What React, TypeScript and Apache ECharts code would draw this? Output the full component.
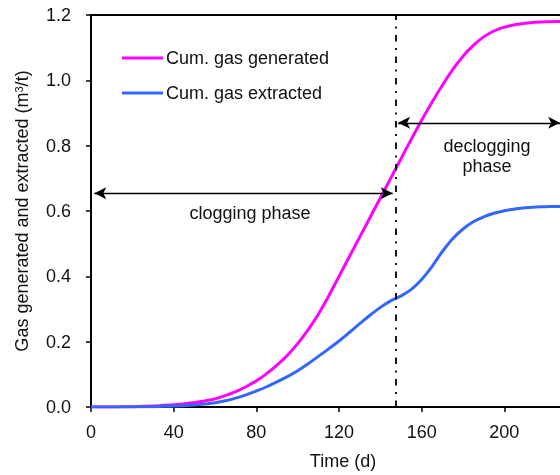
import React, { useEffect, useRef } from "react";
import * as echarts from "echarts";

// Time axis (days) shared by both curves
const days: number[] = [
  0, 5, 10, 15, 20, 25, 30, 35, 40, 45, 50, 55, 60, 65, 70, 75, 80, 85, 90, 95,
  100, 105, 110, 115, 120, 125, 130, 135, 140, 145, 150, 155, 160, 165, 170,
  175, 180, 185, 190, 195, 200, 205, 210, 215, 220, 225, 230, 235, 240,
];

// Cumulative gas generated (m3/t)
const gasGenerated: number[] = [
  0, 0, 0, 0.0005, 0.001, 0.002, 0.003, 0.005, 0.007, 0.01, 0.0135, 0.0185,
  0.025, 0.035, 0.047, 0.062, 0.08, 0.102, 0.128, 0.158, 0.194, 0.236, 0.284,
  0.34, 0.4, 0.46, 0.52, 0.58, 0.64, 0.7, 0.76, 0.82, 0.878, 0.933, 0.985,
  1.033, 1.074, 1.107, 1.133, 1.151, 1.163, 1.17, 1.175, 1.178, 1.179, 1.18,
  1.18, 1.18, 1.18,
];

// Cumulative gas extracted (m3/t)
const gasExtracted: number[] = [
  0, 0, 0, 0, 0, 0.001, 0.001, 0.002, 0.003, 0.004, 0.006, 0.009, 0.013,
  0.019, 0.027, 0.037, 0.049, 0.062, 0.077, 0.093, 0.111, 0.132, 0.155, 0.178,
  0.202, 0.228, 0.255, 0.281, 0.305, 0.325, 0.34, 0.36, 0.39, 0.43, 0.476,
  0.515, 0.545, 0.567, 0.582, 0.593, 0.601, 0.606, 0.61, 0.612, 0.613, 0.614,
  0.614, 0.615, 0.615,
];

const seriesNames: string[] = ["Cum. gas generated", "Cum. gas extracted"];
const seriesColors: string[] = ["#ff00ff", "#3366ff"];

// Phase boundary and phase arrows (day, value)
const phaseBoundaryDay = 147.5;
const cloggingArrow: [number, number][] = [
  [1.6, 0.654],
  [146, 0.654],
];
const decloggingArrow: [number, number][] = [
  [148.6, 0.87],
  [227, 0.87],
];

const FONT = "'Liberation Sans', Arial, sans-serif";

export default function App() {
  const ref = useRef<HTMLDivElement>(null);

  useEffect(() => {
    if (!ref.current) return;
    const chart = echarts.init(ref.current, undefined, { renderer: "svg" });

    const toPairs = (vals: number[]) => days.map((d, i) => [d, vals[i]]);

    chart.setOption({
      animation: false,
      textStyle: { fontFamily: FONT },
      grid: {
        left: 91,
        top: 15,
        bottom: 68,
        width: 496,
        containLabel: false,
        outerBoundsMode: "none",
        show: true,
        borderColor: "#000",
        borderWidth: 2,
      },
      legend: {
        orient: "vertical",
        left: 122,
        top: 49,
        padding: 0,
        itemWidth: 41,
        itemHeight: 3,
        itemGap: 17,
        icon: "rect",
        data: seriesNames,
        textStyle: { fontFamily: FONT, fontSize: 18, color: "#111", padding: [0, 0, 0, -2] },
      },
      xAxis: {
        type: "value",
        min: 0,
        max: 240,
        interval: 40,
        name: "Time (d)",
        nameLocation: "middle",
        nameGap: 45,
        nameTextStyle: {
          fontFamily: FONT,
          fontSize: 18,
          color: "#111",
          padding: [0, 0, 0, 8],
        },
        axisLine: { lineStyle: { color: "#000", width: 2 } },
        axisTick: { inside: false, length: 5, lineStyle: { color: "#000", width: 1.5 } },
        axisLabel: {
          margin: 16,
          fontFamily: FONT,
          fontSize: 18,
          color: "#111",
          showMaxLabel: false,
        },
        splitLine: { show: false },
      },
      yAxis: {
        type: "value",
        min: 0,
        max: 1.2,
        interval: 0.2,
        name: "Gas generated and extracted (m{sup|3}/t)",
        nameLocation: "middle",
        nameRotate: 90,
        nameGap: 60,
        nameTextStyle: {
          fontFamily: FONT,
          fontSize: 18,
          color: "#111",
          rich: {
            sup: { fontFamily: FONT, fontSize: 11, color: "#111", verticalAlign: "top", lineHeight: 18 },
          },
        },
        axisLine: { show: true, lineStyle: { color: "#000", width: 2 } },
        axisTick: { show: true, inside: false, length: 5, lineStyle: { color: "#000", width: 1.5 } },
        axisLabel: {
          margin: 20,
          fontFamily: FONT,
          fontSize: 18,
          color: "#111",
          formatter: (v: number) => v.toFixed(1),
        },
        splitLine: { show: false },
      },
      series: [
        {
          name: seriesNames[0],
          type: "line",
          data: toPairs(gasGenerated),
          showSymbol: false,
          smooth: 0.4,
          lineStyle: { color: seriesColors[0], width: 3 },
          itemStyle: { color: seriesColors[0] },
          z: 3,
          markLine: {
            silent: true,
            symbol: ["none", "none"],
            label: { show: false },
            lineStyle: { color: "#000", width: 1.8, type: [6.5, 6.5, 2, 6.5] },
            data: [{ xAxis: phaseBoundaryDay }],
          },
        },
        {
          name: seriesNames[1],
          type: "line",
          data: toPairs(gasExtracted),
          showSymbol: false,
          smooth: 0.4,
          lineStyle: { color: seriesColors[1], width: 3 },
          itemStyle: { color: seriesColors[1] },
          z: 3,
          markLine: {
            silent: true,
            symbol: ["arrow", "arrow"],
            symbolSize: [9, 12],
            label: { show: false },
            lineStyle: { color: "#000", width: 1.3, type: "solid" },
            itemStyle: { color: "#000" },
            data: [
              [{ coord: cloggingArrow[0] }, { coord: cloggingArrow[1] }],
              [{ coord: decloggingArrow[0] }, { coord: decloggingArrow[1] }],
            ],
          },
        },
      ],
      graphic: [
        {
          type: "text",
          x: 250,
          y: 213,
          style: {
            text: "clogging phase",
            font: `18px ${FONT}`,
            fill: "#111",
            textAlign: "center",
            textVerticalAlign: "middle",
          },
        },
        {
          type: "text",
          x: 487,
          y: 156,
          style: {
            text: "declogging\nphase",
            font: `18px ${FONT}`,
            lineHeight: 20,
            fill: "#111",
            textAlign: "center",
            textVerticalAlign: "middle",
          },
        },
      ],
    });

    return () => chart.dispose();
  }, []);

  return (
    <div
      ref={ref}
      style={{ position: "fixed", left: 0, top: 0, width: 560, height: 475 }}
    />
  );
}
